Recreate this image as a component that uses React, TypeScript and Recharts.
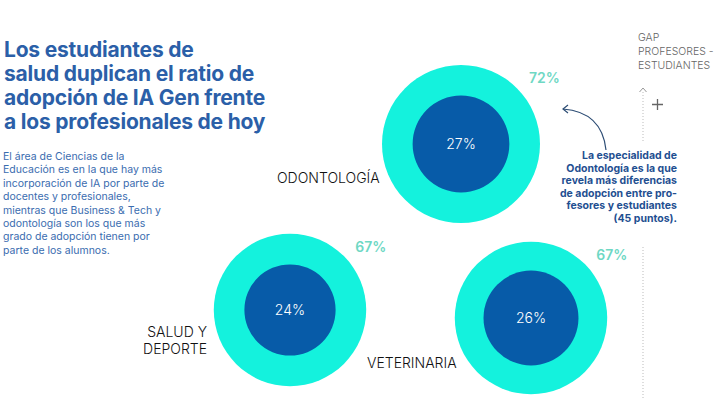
import React from 'react';
import { ScatterChart, Scatter, XAxis, YAxis, ZAxis, LabelList } from 'recharts';

const categories = ['ODONTOLOGÍA', 'SALUD Y\nDEPORTE', 'VETERINARIA'];
const students = [72, 67, 67];
const professors = [27, 24, 26];

// where each bubble pair sits on the page (layout only)
const BOX = 240;
const bubbleLayout = [
  { cx: 461, cy: 144 },
  { cx: 290, cy: 310 },
  { cx: 531, cy: 318 },
];
const labelLayout = [
  { left: 277, top: 169, align: 'left' as const },
  { left: 120, top: 323, align: 'right' as const, width: 87 },
  { left: 367, top: 354, align: 'left' as const },
];

const CYAN = '#14F2DD';
const BLUE = '#075BA8';
const FONT = 'Inter, "Noto Sans", sans-serif';

const getBox = (props: any) => {
  const vb = props.viewBox && props.viewBox.width ? props.viewBox : props;
  const w = Number(vb.width) || 0;
  return { cx: Number(vb.x) + w / 2, cy: Number(vb.y) + w / 2, r: w / 2 };
};

const InnerLabel = (props: any) => {
  const { cx, cy } = getBox(props);
  return (
    <text x={cx} y={cy} dy={5} textAnchor="middle" fill="#ffffff" fontSize={14} fontWeight={300} fontFamily={FONT}>
      {props.value}%
    </text>
  );
};

const OuterLabel = (props: any) => {
  const { cx, cy, r } = getBox(props);
  return (
    <text x={cx + r - 11} y={cy - r * 0.83} dy={5} textAnchor="start" fill="#6FD8C4" fontSize={14} fontWeight={600} fontFamily={FONT}>
      {props.value}%
    </text>
  );
};

const Bubble: React.FC<{ i: number }> = ({ i }) => {
  const pos = bubbleLayout[i];
  return (
    <div style={{ position: 'absolute', left: pos.cx - BOX / 2, top: pos.cy - BOX / 2 }}>
      <ScatterChart width={BOX} height={BOX} margin={{ top: 0, right: 0, bottom: 0, left: 0 }}>
        <XAxis type="number" dataKey="x" domain={[-1, 1]} hide />
        <YAxis type="number" dataKey="y" domain={[-1, 1]} hide />
        <ZAxis type="number" dataKey="value" domain={[0, 100]} range={[0, 27230]} />
        <Scatter data={[{ x: 0, y: 0, value: students[i] }]} fill={CYAN} isAnimationActive={false}>
          <LabelList dataKey="value" content={<OuterLabel />} />
        </Scatter>
        <Scatter data={[{ x: 0, y: 0, value: professors[i] }]} fill={BLUE} isAnimationActive={false}>
          <LabelList dataKey="value" content={<InnerLabel />} />
        </Scatter>
      </ScatterChart>
    </div>
  );
};

const App: React.FC = () => {
  return (
    <div style={{ position: 'absolute', left: 0, top: 0, width: 720, height: 400, background: '#fff', overflow: 'hidden', fontFamily: FONT }}>
      {/* decorations */}
      <svg width={720} height={400} style={{ position: 'absolute', left: 0, top: 0 }}>
        <line x1={643} y1={92} x2={643} y2={143} stroke="#bbb" strokeWidth={1} strokeDasharray="1 2" />
        <line x1={643} y1={247} x2={643} y2={400} stroke="#bbb" strokeWidth={1} strokeDasharray="1 2" />
        <path d="M639.5 92 L643 88 L646.5 92" fill="none" stroke="#999" strokeWidth={1} />
        <path d="M652 104.5 H663 M657.5 99 V110" stroke="#666" strokeWidth={1.3} />
        <path d="M606 150 Q602 112 563 109" fill="none" stroke="#2C4C74" strokeWidth={1.2} />
        <path d="M568 105 L563 109 L568 113" fill="none" stroke="#2C4C74" strokeWidth={1.2} />
      </svg>

      <div style={{ position: 'absolute', left: 4, top: 38, fontSize: 21, lineHeight: '24px', fontWeight: 700, color: '#2B5FA8', letterSpacing: -0.2 }}>
        Los estudiantes de<br />salud duplican el ratio de<br />adopción de IA Gen frente<br />a los profesionales de hoy
      </div>

      <div style={{ position: 'absolute', left: 3, top: 150, width: 180, fontSize: 10.5, lineHeight: '13.4px', color: '#3A6CAF' }}>
        El área de Ciencias de la<br />Educación es en la que hay más<br />incorporación de IA por parte de<br />docentes y profesionales,<br />mientras que Business &amp; Tech y<br />odontología son los que más<br />grado de adopción tienen por<br />parte de los alumnos.
      </div>

      <div style={{ position: 'absolute', left: 638, top: 31, fontSize: 10.5, lineHeight: '14px', fontWeight: 300, color: '#666' }}>
        GAP<br />PROFESORES -<br />ESTUDIANTES
      </div>

      <div style={{ position: 'absolute', right: 43, top: 150, fontSize: 10.5, lineHeight: '12.6px', fontWeight: 700, color: '#1F4F91', textAlign: 'right' }}>
        La especialidad de<br />Odontología es la que<br />revela más diferencias<br />de adopción entre pro-<br />fesores y estudiantes<br />(45 puntos).
      </div>

      {categories.map((c, i) => (
        <div
          key={c}
          style={{
            position: 'absolute',
            left: labelLayout[i].left,
            top: labelLayout[i].top,
            width: labelLayout[i].width,
            textAlign: labelLayout[i].align,
            fontSize: 14,
            lineHeight: '17px',
            fontWeight: 300,
            color: '#111',
            whiteSpace: 'pre-line',
          }}
        >
          {c}
        </div>
      ))}

      {categories.map((c, i) => (
        <Bubble key={c} i={i} />
      ))}
    </div>
  );
};

export default App;
